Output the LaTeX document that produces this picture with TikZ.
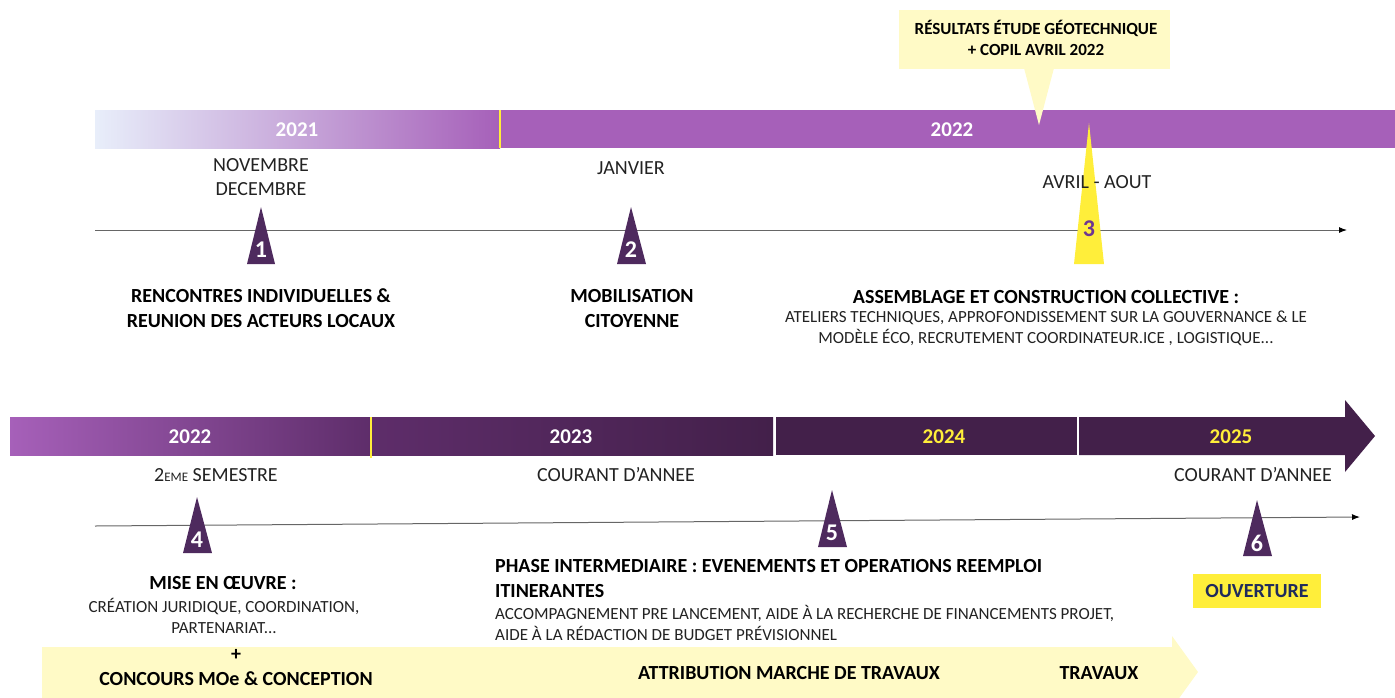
\documentclass[tikz,border=0pt]{standalone}
\usepackage{fontspec}
\setmainfont{Carlito}
\usetikzlibrary{arrows.meta}
\definecolor{topPurple}{HTML}{A660B9}
\definecolor{gradA}{HTML}{E8EEFA}
\definecolor{midPurple}{HTML}{5E2D6A}
\definecolor{darkPurple}{HTML}{43204A}
\definecolor{triPurple}{HTML}{4E2A5E}
\definecolor{brightY}{HTML}{FFEE3A}
\definecolor{paleY}{HTML}{FFFAC6}
\definecolor{numPurple}{HTML}{6E3592}
\definecolor{navy}{HTML}{1F2A5C}
\definecolor{txt}{HTML}{222222}
\begin{document}
\begin{tikzpicture}[x=1pt,y=-1pt,
  year/.style={font=\bfseries\fontsize{21}{21}\selectfont, text=white, inner sep=0pt},
  lbl/.style={font=\fontsize{20}{24}\selectfont, text=txt, align=center, inner sep=0pt},
  blbl/.style={font=\bfseries\fontsize{20}{25}\selectfont, text=black, align=center, inner sep=0pt},
  small/.style={font=\fontsize{17}{21}\selectfont, text=txt, align=center, inner sep=0pt},
  num/.style={font=\bfseries\fontsize{24}{24}\selectfont, text=white, inner sep=0pt},
  tri/.style={fill=triPurple},
  axis/.style={draw=black!60, line width=1pt, -{Latex[length=8pt,width=6pt,color=black]}},
  divider/.style={draw=brightY, line width=1.5pt}
]
\useasboundingbox (0,0) rectangle (1395,697);
\clip (0,0) rectangle (1395,697);

% ---------- top band ----------
\shade[left color=gradA, right color=topPurple] (95,110) rectangle (500,148);
\fill[topPurple] (500,110) rectangle (1395,148);
\draw[divider] (500,110) -- (500,148);
\node[year] (y2021) at (297,130) {2021};
\node[year] (y2022a) at (952,130) {2022};

% callout
\fill[paleY] (899,10) rectangle (1170,69);
\fill[paleY] (1024,68) -- (1054,68) -- (1039,125) -- cycle;
\node[font=\bfseries\fontsize{17}{21}\selectfont, align=center, inner sep=0pt] (geo) at (1036,37.5)
  {RÉSULTATS ÉTUDE GÉOTECHNIQUE\\+ COPIL AVRIL 2022};

% top axis
\coordinate (a1s) at (95,230);
\coordinate (a1e) at (1347,230);
\draw[axis] (a1s) -- (a1e);

% triangles
\fill[tri] (247,264) -- (275,264) -- (261,207) -- cycle;
\node[num] (n1) at (261,250) {1};
\fill[tri] (617,264) -- (646,264) -- (631,207) -- cycle;
\node[num] (n2) at (631,250) {2};
\fill[brightY] (1074,264) -- (1104,264) -- (1089,123) -- cycle;
\node[num, text=numPurple] (n3) at (1089,229) {3};

% top labels
\node[lbl] (nov) at (261,177) {NOVEMBRE\\DECEMBRE};
\node[lbl] (jan) at (631,168) {JANVIER};
\node[lbl] (avr) at (1097,182) {AVRIL - AOUT};
\node[blbl] (t1) at (261,308.5) {RENCONTRES INDIVIDUELLES \&\\REUNION DES ACTEURS LOCAUX};
\node[blbl] (t2) at (632,308.5) {MOBILISATION\\CITOYENNE};
\node[blbl] (t3) at (1046,297) {ASSEMBLAGE ET CONSTRUCTION COLLECTIVE :};
\node[small] (t3b) at (1046,328.5) {ATELIERS TECHNIQUES, APPROFONDISSEMENT  SUR LA GOUVERNANCE \& LE\\MODÈLE ÉCO, RECRUTEMENT COORDINATEUR.ICE , LOGISTIQUE...};

% ---------- bottom band ----------
\shade[left color=topPurple, right color=midPurple] (10,417) rectangle (371,455);
\shade[left color=midPurple, right color=darkPurple] (371,417) rectangle (773,455);
\fill[darkPurple] (776,417) rectangle (1077,455);
\fill[darkPurple] (1079,417) -- (1345,417) -- (1345,400) -- (1375,436) -- (1345,472) -- (1345,455) -- (1079,455) -- cycle;
\draw[divider] (371,417) -- (371,458);
\node[year] (y2022b) at (190,437) {2022};
\node[year] (y2023) at (571,437) {2023};
\node[year, text=brightY] (y2024) at (944,437) {2024};
\node[year, text=brightY] (y2025) at (1231,437) {2025};

\node[lbl] (sem) at (216,475) {2{\fontsize{13}{13}\selectfont EME} SEMESTRE};
\node[lbl] (cour1) at (616,475) {COURANT D’ANNEE};
\node[lbl] (cour2) at (1253,475) {COURANT D’ANNEE};

% bottom axis
\coordinate (a2s) at (95,526);
\coordinate (a2e) at (1360,517);
\draw[axis] (a2s) -- (a2e);

\fill[tri] (183,553) -- (212,553) -- (197,497) -- cycle;
\node[num] (n4) at (197,540) {4};
\fill[tri] (818,547) -- (847,547) -- (832,490) -- cycle;
\node[num] (n5) at (832,533) {5};
\fill[tri] (1243,556) -- (1272,556) -- (1257,500) -- cycle;
\node[num] (n6) at (1257,543) {6};

% bottom labels
\node[blbl] (t4) at (223,583) {MISE EN ŒUVRE :};
\node[small] (t4b) at (224,616) {CRÉATION JURIDIQUE, COORDINATION,\\PARTENARIAT...};
\node[blbl, align=left, anchor=west] (t5) at (495,578) {PHASE INTERMEDIAIRE : EVENEMENTS ET OPERATIONS REEMPLOI\\ITINERANTES};
\node[small, align=left, anchor=west] (t5b) at (495,622.5) {ACCOMPAGNEMENT PRE LANCEMENT, AIDE À LA RECHERCHE DE FINANCEMENTS PROJET,\\AIDE À LA RÉDACTION DE BUDGET PRÉVISIONNEL};

\node[fill=brightY, minimum width=128pt, minimum height=34pt, inner sep=0pt,
  font=\bfseries\fontsize{20}{20}\selectfont, text=navy] (ouv) at (1257,591) {OUVERTURE};

% bottom pale arrow
\fill[paleY] (42,647) -- (1172,647) -- (1172,636) -- (1198,672) -- (1172,708) -- (42,708) -- cycle;
\node[blbl] (plus) at (236,668) {+\\CONCOURS MOe \& CONCEPTION};
\node[blbl] (attr) at (789,673) {ATTRIBUTION MARCHE DE TRAVAUX};
\node[blbl] (trav) at (1099,673) {TRAVAUX};
\end{tikzpicture}
\end{document}
